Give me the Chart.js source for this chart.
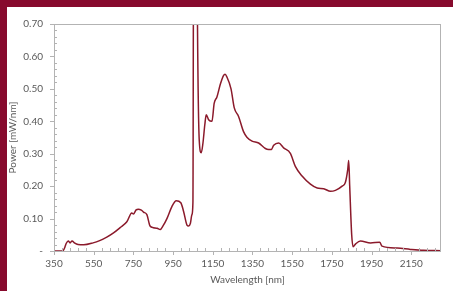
<!DOCTYPE html>
<html>
<head>
<meta charset="utf-8">
<script src="https://cdn.jsdelivr.net/npm/chart.js@4"></script>
<style>
  html, body { margin: 0; padding: 0; background: #fff; }
  #frame {
    width: 446px; height: 284px;
    border-top: 7px solid #870A2D;
    border-left: 7px solid #870A2D;
  }
</style>
</head>
<body>
<div id="frame"><canvas id="spectrum" width="446" height="284"></canvas></div>
<script>
// data
const wavelength = [350, 390, 397, 405, 412, 422, 431, 441, 455, 471, 500, 547, 580, 616, 650, 683, 717, 742, 750, 764, 775, 790, 801, 818, 834, 851, 870, 885, 900, 919, 944, 966, 989, 1003, 1020, 1028, 1037, 1045, 1050, 1055, 1066, 1073, 1082, 1092, 1100, 1110, 1117, 1129, 1146, 1157, 1171, 1188, 1204, 1212, 1221, 1242, 1258, 1280, 1305, 1322, 1348, 1381, 1415, 1431, 1445, 1457, 1482, 1507, 1541, 1566, 1600, 1642, 1676, 1709, 1743, 1768, 1802, 1818, 1830, 1835, 1840, 1850, 1857, 1870, 1894, 1945, 1991, 2003, 2079, 2146, 2212, 2300];
const power = [0, 0, 0.002, 0.012, 0.024, 0.031, 0.025, 0.031, 0.024, 0.020, 0.019, 0.025, 0.032, 0.043, 0.056, 0.072, 0.090, 0.117, 0.114, 0.127, 0.129, 0.126, 0.120, 0.112, 0.077, 0.072, 0.070, 0.066, 0.078, 0.100, 0.137, 0.155, 0.149, 0.122, 0.080, 0.077, 0.085, 0.112, 0.15, 1.5, 1.5, 0.7, 0.34, 0.303, 0.33, 0.39, 0.420, 0.405, 0.400, 0.455, 0.475, 0.514, 0.541, 0.545, 0.537, 0.500, 0.442, 0.415, 0.368, 0.351, 0.339, 0.333, 0.316, 0.313, 0.313, 0.326, 0.333, 0.318, 0.301, 0.261, 0.231, 0.206, 0.194, 0.192, 0.184, 0.187, 0.200, 0.211, 0.251, 0.279, 0.20, 0.05, 0.013, 0.022, 0.031, 0.025, 0.027, 0.015, 0.009, 0.005, 0.002, 0.001];
const xTicks = [350, 550, 750, 950, 1150, 1350, 1550, 1750, 1950, 2150];
const yTicks = [0, 0.1, 0.2, 0.3, 0.4, 0.5, 0.6, 0.7];

const textColor = "#595959";
const axisColor = "#B3B3B3";
const font = { family: "Lato", size: 10 };

// plot frame and tick marks, Excel style
const frameTicks = {
  id: "frameTicks",
  afterDatasetsDraw(chart) {
    const { ctx, chartArea: a, scales } = chart;
    ctx.save();
    ctx.strokeStyle = axisColor;
    ctx.lineWidth = 1;
    ctx.strokeRect(a.left + 0.5, a.top + 0.5, a.right - a.left - 1, a.bottom - a.top);
    ctx.beginPath();
    for (let v = 350; v < 2300; v += 40) {
      const x = Math.round(scales.x.getPixelForValue(v)) + 0.5;
      const major = (v - 350) % 200 === 0;
      ctx.moveTo(x, a.bottom + (major ? 4 : 0));
      ctx.lineTo(x, a.bottom - (major ? 0 : 3));
    }
    for (let i = 0; i <= 35; i++) {
      const y = Math.round(scales.y.getPixelForValue(i * 0.02)) + 0.5;
      const major = i % 5 === 0;
      ctx.moveTo(a.left - (major ? 4 : 0), y);
      ctx.lineTo(a.left + (major ? 0 : 3), y);
    }
    ctx.stroke();
    ctx.restore();
  }
};

new Chart(document.getElementById("spectrum"), {
  type: "line",
  data: {
    datasets: [{
      data: wavelength.map((w, i) => ({ x: w, y: power[i] })),
      borderColor: "#8B1A2B",
      borderWidth: 1.5,
      pointRadius: 0,
      cubicInterpolationMode: "monotone",
      fill: false
    }]
  },
  options: {
    responsive: false,
    animation: false,
    layout: { padding: { top: 9, right: 12, bottom: 0, left: 0 } },
    plugins: { legend: { display: false }, tooltip: { enabled: false } },
    scales: {
      x: {
        type: "linear",
        min: 350,
        max: 2300,
        afterBuildTicks: s => { s.ticks = xTicks.map(v => ({ value: v })); },
        afterFit: s => { s.height = 40; },
        grid: { display: false, drawTicks: false, tickLength: 0 },
        border: { display: false },
        ticks: { color: textColor, font, padding: 7, maxRotation: 0, autoSkip: false, callback: v => String(v) },
        title: { display: true, text: "Wavelength [nm]", color: textColor, font, padding: { top: 0, bottom: 5 } }
      },
      y: {
        min: 0,
        max: 0.7,
        afterBuildTicks: s => { s.ticks = yTicks.map(v => ({ value: v })); },
        afterFit: s => { s.width = 47; },
        grid: { display: false, drawTicks: false, tickLength: 0 },
        border: { display: false },
        ticks: {
          color: textColor, font, padding: 11,
          callback: v => (v === 0 ? "-" : v.toFixed(2))
        },
        title: { display: true, text: "Power [mW/nm]", color: textColor, font, padding: { top: 0, bottom: 0 } }
      }
    }
  },
  plugins: [frameTicks]
});
</script>
</body>
</html>
